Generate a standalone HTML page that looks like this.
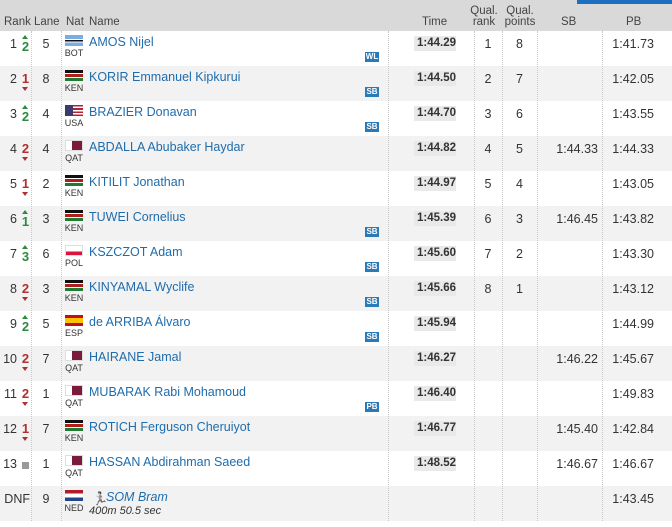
<!DOCTYPE html><html><head><meta charset="utf-8"><style>
*{margin:0;padding:0;box-sizing:border-box}
body{width:672px;height:527px;background:#fff;font-family:"Liberation Sans",sans-serif;font-size:12px;color:#333;position:relative;overflow:hidden}
.hd{position:absolute;left:0;top:0;width:672px;height:31px;background:#d9d9d9}
.hd div{position:absolute;font-size:11.5px;color:#444;line-height:11px}
.blue{position:absolute;left:577px;top:0;width:95px;height:4px;background:#1e6fc0}
.r{position:absolute;left:0;width:672px;height:35px}
.r.g{background:#f2f2f2}
.r div{position:absolute}
.rk{right:655px;top:6px;text-align:right;font-size:12.5px}
.ch{left:21px;width:9px;font-size:13px;font-weight:bold;text-align:center}
.up{top:8px;color:#2e8b3e}.up:before{content:"";position:absolute;left:1px;top:-4px;border:3.5px solid transparent;border-bottom:4px solid #2e8b3e;border-top:0}
.dn{top:5px;color:#b03030}.dn:after{content:"";position:absolute;left:1px;top:16px;border:3.5px solid transparent;border-top:4px solid #b03030;border-bottom:0}
.sq{left:22px;top:11px;width:7px;height:7px;background:#999}
.ln{left:31px;width:30px;top:6px;text-align:center;font-size:12.5px}
.fl{left:65px;top:4px;width:18px;height:11px;overflow:hidden}
.cd{left:63px;top:17px;width:22px;text-align:center;font-size:9px;color:#333}
.nm{left:89px;top:4px;color:#1f6cad;font-size:12.5px}
.tm{left:414px;top:5px;width:42px;height:15px;background:#e9e9e9;font-weight:bold;text-align:right;line-height:15px;font-size:11.5px}
.qr{left:474px;width:28px;top:6px;text-align:center;font-size:12.5px}
.qp{left:502px;width:35px;top:6px;text-align:center;font-size:12.5px}
.sb{right:74px;top:6px;font-size:12.5px}
.pb{right:18px;top:6px;font-size:12.5px}
.bd{left:365px;top:21px;width:14px;height:10px;background:#2a7ab8;color:#fff;font-size:8px;font-weight:bold;line-height:10px;text-align:center}
.v{position:absolute;top:31px;height:490px;border-left:1px dotted #c8c8c8}
.bot{background:linear-gradient(#7aaee0 0 4px,#fff 4px 5px,#111 5px 6.5px,#fff 6.5px 7.5px,#7aaee0 7.5px)}
.ken{background:linear-gradient(#111 0 3px,#fff 3px 4px,#b01d1d 4px 7px,#fff 7px 8px,#1f7a32 8px)}
.usa{background:linear-gradient(90deg,#3c3b6e 0 8px,transparent 8px),repeating-linear-gradient(#b22234 0 1.6px,#fff 1.6px 3.2px)}
.qat{background:linear-gradient(90deg,#fff 0 6px,#7a1b3a 6px);border:1px solid #ddd}
.pol{background:linear-gradient(#fff 0 5.5px,#dc143c 5.5px);border:1px solid #ddd}
.esp{background:linear-gradient(#c60b1e 0 3px,#ffc400 3px 8px,#c60b1e 8px)}
.ned{background:linear-gradient(#ae1c28 0 3.7px,#fff 3.7px 7.3px,#21468b 7.3px)}
</style></head><body>
<div class="hd">
<div style="left:4px;top:17px">Rank</div><div style="left:34px;top:17px">Lane</div><div style="left:66px;top:17px">Nat</div><div style="left:89px;top:17px">Name</div>
<div style="left:422px;top:17px">Time</div><div style="left:470px;top:6px;text-align:center;width:28px">Qual.<br>rank</div><div style="left:503px;top:6px;text-align:center;width:34px">Qual.<br>points</div>
<div style="left:561px;top:17px">SB</div><div style="left:626px;top:17px">PB</div>
</div>
<div class="blue"></div>

<div class="r" style="top:31px"><div class="rk">1</div><div class="ch up">2</div><div class="ln">5</div><div class="fl bot"></div><div class="cd">BOT</div><div class="nm">AMOS Nijel</div><div class="bd">WL</div><div class="tm">1:44.29</div><div class="qr">1</div><div class="qp">8</div><div class="pb">1:41.73</div></div>
<div class="r g" style="top:66px"><div class="rk">2</div><div class="ch dn">1</div><div class="ln">8</div><div class="fl ken"></div><div class="cd">KEN</div><div class="nm">KORIR Emmanuel Kipkurui</div><div class="bd">SB</div><div class="tm">1:44.50</div><div class="qr">2</div><div class="qp">7</div><div class="pb">1:42.05</div></div>
<div class="r" style="top:101px"><div class="rk">3</div><div class="ch up">2</div><div class="ln">4</div><div class="fl usa"></div><div class="cd">USA</div><div class="nm">BRAZIER Donavan</div><div class="bd">SB</div><div class="tm">1:44.70</div><div class="qr">3</div><div class="qp">6</div><div class="pb">1:43.55</div></div>
<div class="r g" style="top:136px"><div class="rk">4</div><div class="ch dn">2</div><div class="ln">4</div><div class="fl qat"></div><div class="cd">QAT</div><div class="nm">ABDALLA Abubaker Haydar</div><div class="tm">1:44.82</div><div class="qr">4</div><div class="qp">5</div><div class="sb">1:44.33</div><div class="pb">1:44.33</div></div>
<div class="r" style="top:171px"><div class="rk">5</div><div class="ch dn">1</div><div class="ln">2</div><div class="fl ken"></div><div class="cd">KEN</div><div class="nm">KITILIT Jonathan</div><div class="tm">1:44.97</div><div class="qr">5</div><div class="qp">4</div><div class="pb">1:43.05</div></div>
<div class="r g" style="top:206px"><div class="rk">6</div><div class="ch up">1</div><div class="ln">3</div><div class="fl ken"></div><div class="cd">KEN</div><div class="nm">TUWEI Cornelius</div><div class="bd">SB</div><div class="tm">1:45.39</div><div class="qr">6</div><div class="qp">3</div><div class="sb">1:46.45</div><div class="pb">1:43.82</div></div>
<div class="r" style="top:241px"><div class="rk">7</div><div class="ch up">3</div><div class="ln">6</div><div class="fl pol"></div><div class="cd">POL</div><div class="nm">KSZCZOT Adam</div><div class="bd">SB</div><div class="tm">1:45.60</div><div class="qr">7</div><div class="qp">2</div><div class="pb">1:43.30</div></div>
<div class="r g" style="top:276px"><div class="rk">8</div><div class="ch dn">2</div><div class="ln">3</div><div class="fl ken"></div><div class="cd">KEN</div><div class="nm">KINYAMAL Wyclife</div><div class="bd">SB</div><div class="tm">1:45.66</div><div class="qr">8</div><div class="qp">1</div><div class="pb">1:43.12</div></div>
<div class="r" style="top:311px"><div class="rk">9</div><div class="ch up">2</div><div class="ln">5</div><div class="fl esp"></div><div class="cd">ESP</div><div class="nm">de ARRIBA Álvaro</div><div class="bd">SB</div><div class="tm">1:45.94</div><div class="pb">1:44.99</div></div>
<div class="r g" style="top:346px"><div class="rk">10</div><div class="ch dn">2</div><div class="ln">7</div><div class="fl qat"></div><div class="cd">QAT</div><div class="nm">HAIRANE Jamal</div><div class="tm">1:46.27</div><div class="sb">1:46.22</div><div class="pb">1:45.67</div></div>
<div class="r" style="top:381px"><div class="rk">11</div><div class="ch dn">2</div><div class="ln">1</div><div class="fl qat"></div><div class="cd">QAT</div><div class="nm">MUBARAK Rabi Mohamoud</div><div class="bd">PB</div><div class="tm">1:46.40</div><div class="pb">1:49.83</div></div>
<div class="r g" style="top:416px"><div class="rk">12</div><div class="ch dn">1</div><div class="ln">7</div><div class="fl ken"></div><div class="cd">KEN</div><div class="nm">ROTICH Ferguson Cheruiyot</div><div class="tm">1:46.77</div><div class="sb">1:45.40</div><div class="pb">1:42.84</div></div>
<div class="r" style="top:451px"><div class="rk">13</div><div class="sq"></div><div class="ln">1</div><div class="fl qat"></div><div class="cd">QAT</div><div class="nm">HASSAN Abdirahman Saeed</div><div class="tm">1:48.52</div><div class="sb">1:46.67</div><div class="pb">1:46.67</div></div>
<div class="r g" style="top:486px"><div class="rk" style="right:642px">DNF</div><div class="ln">9</div><div class="fl ned"></div><div class="cd">NED</div><div style="left:92px;top:5px;font-size:13px;filter:grayscale(1)">&#x1F3C3;</div><div class="nm" style="left:106px;font-style:italic">SOM Bram</div><div style="left:89px;top:19px;font-style:italic;font-size:11px">400m 50.5 sec</div><div class="pb">1:43.45</div></div>

<div class="v" style="left:31px"></div><div class="v" style="left:61px"></div>
<div class="v" style="left:388px"></div><div class="v" style="left:474px"></div><div class="v" style="left:502px"></div><div class="v" style="left:537px"></div><div class="v" style="left:602px"></div>
</body></html>
